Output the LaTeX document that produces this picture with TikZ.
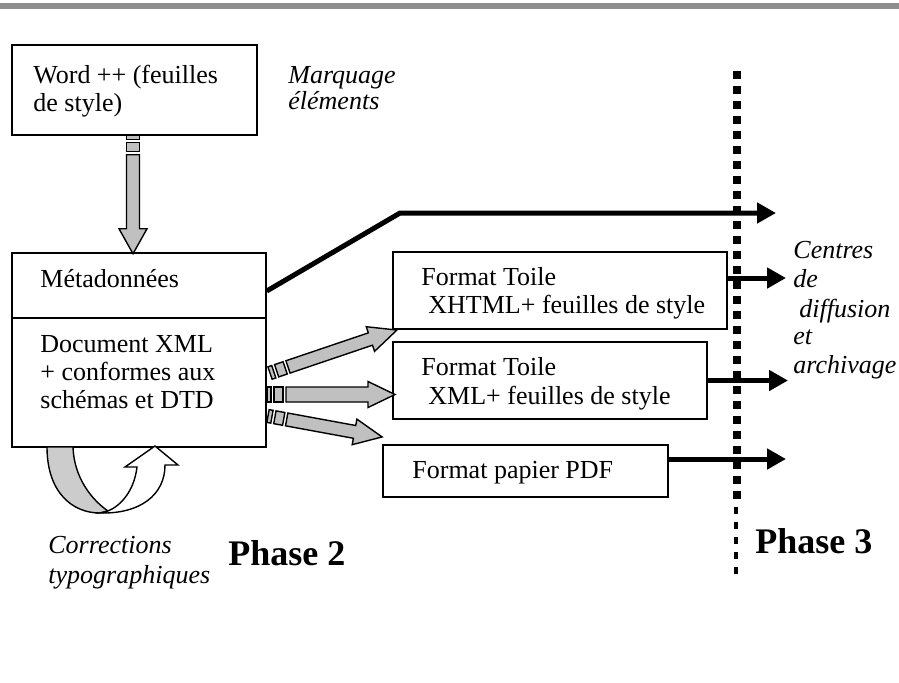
\documentclass[tikz,border=0pt]{standalone}
\usepackage{fontspec}
\setmainfont{Liberation Serif}
\usetikzlibrary{arrows.meta,calc}
\definecolor{barGray}{HTML}{8E8E8E}
\definecolor{arrowGray}{HTML}{C0C0C0}
\definecolor{loopGray}{HTML}{CCCCCC}
\tikzset{
 box/.style={draw, line width=0.75pt, fill=white, inner sep=0pt},
 txt/.style={anchor=base west, inner sep=0pt, font=\fontsize{13}{14}\selectfont},
 itxt/.style={anchor=base west, inner sep=0pt, font=\fontsize{13}{14}\selectfont\itshape},
 phase/.style={anchor=base west, inner sep=0pt, font=\fontsize{18}{20}\selectfont\bfseries},
 garrow/.style={draw, line width=0.7pt, fill=arrowGray, line join=miter},
 blk/.style={line width=2.5pt, -{Triangle[length=9.5pt,width=10pt]}},
}
\newcommand{\stripearrow}[6]{%
 \begin{scope}[shift={(#1)}, rotate=#2]
  \draw[garrow] (0,-#4) rectangle (4,#4);
  \draw[garrow] (7,-#4) rectangle (16,#4);
  \draw[garrow] (19,-#4) -- ({#3-#6},-#4) -- ({#3-#6},-#5) -- (#3,0) -- ({#3-#6},#5) -- ({#3-#6},#4) -- (19,#4) -- cycle;
 \end{scope}}
\begin{document}
\begin{tikzpicture}[x=0.5pt,y=-0.5pt]
\useasboundingbox (0,0) rectangle (899,682);
% top bar
\fill[barGray] (0,3) rectangle (899,9);
% boxes
\node[box, minimum width=122.5pt, minimum height=45pt] (word) at (134.5,90) {};
\node[box, minimum width=127pt, minimum height=32.5pt] (meta) at (139,285.5) {};
\node[box, minimum width=127pt, minimum height=64.5pt] (doc) at (139,382.5) {};
\node[box, minimum width=167pt, minimum height=38.5pt] (xhtml) at (560,290.5) {};
\node[box, minimum width=157pt, minimum height=38.5pt] (xml) at (550,380.5) {};
\node[box, minimum width=142.5pt, minimum height=26pt] (pdf) at (525.5,471) {};
% texts
\node[txt] (t1) at (33,83) {Word ++ (feuilles};
\node[txt] (t2) at (33,111) {de style)};
\node[itxt] (m1) at (288,83) {Marquage};
\node[itxt] (m2) at (288,109) {éléments};
\node[txt] (mt) at (40,287) {Métadonnées};
\node[txt] (d1) at (40,352) {Document XML};
\node[txt] (d2) at (40,380) {+ conformes aux};
\node[txt] (d3) at (40,408) {schémas et DTD};
\node[txt] (x1) at (421,285) {Format Toile};
\node[txt] (x2) at (428,313) {XHTML+ feuilles de style};
\node[txt] (y1) at (421,375) {Format Toile};
\node[txt] (y2) at (428,404) {XML+ feuilles de style};
\node[txt] (p1) at (412,478) {Format papier PDF};
\node[itxt] (c1) at (48,553) {Corrections};
\node[itxt] (c2) at (48,583) {typographiques};
\node[phase] (ph2) at (228,565) {Phase 2};
\node[phase] (ph3) at (755,553) {Phase 3};
\node[itxt] (r1) at (793,258) {Centres};
\node[itxt] (r2) at (793,287) {de};
\node[itxt] (r3) at (799,317) {diffusion};
\node[itxt] (r4) at (793,344) {et};
\node[itxt] (r5) at (793,373) {archivage};
% gray striped arrows
\coordinate (va) at ($(word.south)+(-1.5,0)$);
\stripearrow{va}{-90}{118}{6.5}{14}{25}
\coordinate (a1) at (270,373);
\stripearrow{a1}{18.7}{134}{6.5}{13}{28}
\coordinate (a2) at (267,394.5);
\stripearrow{a2}{0}{128}{7.5}{13}{27}
\coordinate (a3) at (268,416);
\stripearrow{a3}{-10.4}{116}{6.5}{13}{28}
% loop arrow
\fill[loopGray, draw=black, line width=0.7pt] (47,447) .. controls (47,492) and (72,513) .. (100,513) -- (108,511) .. controls (92,500) and (74,478) .. (73,447) -- cycle;
\filldraw[fill=white, draw=black, line width=0.7pt] (100,513) .. controls (140,514) and (165,495) .. (165,465) -- (178,465) -- (155,446) -- (125,467) -- (137,467) .. controls (134,492) and (120,506) .. (108,511) -- cycle;
% dotted phase separator
\draw[line width=4pt, dash pattern=on 4pt off 3.5pt] (737,71) -- (737,503);
\draw[line width=2pt, dash pattern=on 3.5pt off 4pt] (736,507) -- (736,575);
% black arrows
\coordinate (bend) at (400,213);
\coordinate (e0) at (776,213);
\coordinate (e1) at (786,278);
\coordinate (e2) at (788,380.5);
\coordinate (e3) at (786,459);
\draw[blk, line join=miter] ($(meta.east)+(0,5.5)$) -- (bend) -- (e0);
\draw[blk] ($(xhtml.east)+(0,-12.5)$) -- (e1);
\draw[blk] (xml.east) -- (e2);
\draw[blk] ($(pdf.east)+(0,-12)$) -- (e3);
\end{tikzpicture}
\end{document}
